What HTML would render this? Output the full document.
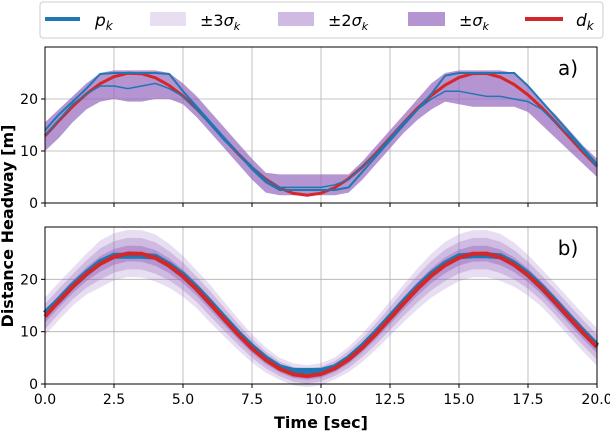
<!DOCTYPE html>
<html><head><meta charset="utf-8"><style>
body{margin:0;background:#fff;}
svg text{font-family:"DejaVu Sans","Liberation Sans",sans-serif;}
</style></head><body>
<svg id="chart" width="610" height="432" xmlns="http://www.w3.org/2000/svg">
<g id="legend">
<rect x="40" y="2" width="563" height="36" rx="3" fill="#fff" stroke="#ccc"/>
<line x1="45" y1="19" x2="80" y2="19" stroke="#1f77b4" stroke-width="4"/>
<text x="95" y="26" font-size="17" font-style="italic">p<tspan font-size="12" dy="4">k</tspan></text>
<rect x="150" y="12" width="36" height="14" fill="#9467bd" fill-opacity="0.22"/>
<text x="200" y="26" font-size="16">±3<tspan font-style="italic">σ</tspan><tspan font-size="11" font-style="italic" dy="4">k</tspan></text>
<rect x="278" y="12" width="36" height="14" fill="#9467bd" fill-opacity="0.45"/>
<text x="328" y="26" font-size="16">±2<tspan font-style="italic">σ</tspan><tspan font-size="11" font-style="italic" dy="4">k</tspan></text>
<rect x="408" y="12" width="37" height="14" fill="#9467bd" fill-opacity="0.7"/>
<text x="459" y="26" font-size="16">±<tspan font-style="italic">σ</tspan><tspan font-size="11" font-style="italic" dy="4">k</tspan></text>
<line x1="525" y1="19" x2="563" y2="19" stroke="#d62728" stroke-width="4"/>
<text x="576" y="26" font-size="17" font-style="italic">d<tspan font-size="12" dy="4">k</tspan></text>
</g>
<g id="pa"></g>
<g id="pb"></g>
<text x="13" y="226" font-size="16" font-weight="bold" text-anchor="middle" transform="rotate(-90 13 226)">Distance Headway [m]</text>
<text x="321" y="428" font-size="16" font-weight="bold" text-anchor="middle">Time [sec]</text>
</svg>
<script>
const times=[0,0.5,1,1.5,2,2.5,3,3.5,4,4.5,5,5.5,6,6.5,7,7.5,8,8.5,9,9.5,10,10.5,11,11.5,12,12.5,13,13.5,14,14.5,15,15.5,16,16.5,17,17.5,18,18.5,19,19.5,20];
const dRef=[12.9,15.81,18.57,20.99,22.94,24.29,24.94,24.87,24.08,22.6,20.57,18.07,15.26,12.33,9.46,6.81,4.58,2.9,1.84,1.5,1.89,2.97,4.68,6.95,9.62,12.51,15.44,18.23,20.7,22.7,24.14,24.89,24.92,24.2,22.78,20.78,18.33,15.54,12.63,9.75,7.07];
const aUpper=[15.5,18,20.5,23,25,25.5,25.5,25.5,25.5,25,23,20.5,17.5,14.5,11.5,8.5,5.8,5.5,5.5,5.5,5.5,5.5,5.5,8,11,14,17,20,23,25,25.5,25.5,25.5,25.5,25,22.5,19.5,17,14,11,8.5];
const aLower=[10,12.5,15.5,18,19.5,20,19.5,19.5,20,20,19,16.5,13.5,10.5,7.5,4.5,2,1.5,1.5,1.5,1.5,1.5,2,4.5,7.5,10.5,13.5,16,18,19.5,19,18.5,18.5,18.5,18.5,17.5,15,12.5,10,7.5,5];
const aPred1=[14,17,19.5,22,24.8,25,25,25,25,24.8,21.5,18.5,15.5,12.5,9.5,6.5,4,2.5,2.5,2.5,2.5,2.5,3,6,9,12,15,18,21,24.5,25,25,25,25,25,22.5,19.5,16.5,13.5,10.5,7.5];
const aPred2=[13,16,19,21,22.5,22.5,22,22.5,23,22,20.5,18,15,12,9.5,7,4.5,3,3,3,3,3.5,4.5,7,9.5,12.5,15.5,18,20,21.5,21.5,21,20.5,20.5,20,19.5,18,15.5,13,10,7];
const bSigma=[1.2,1.2,1.2,1.3,1.5,1.5,1.5,1.5,1.5,1.4,1.3,1.2,1.2,1.1,1.0,0.9,0.8,0.7,0.7,0.7,0.7,0.7,0.8,0.9,1.0,1.1,1.2,1.3,1.4,1.5,1.5,1.5,1.5,1.5,1.4,1.3,1.2,1.2,1.2,1.2,1.2];
const bPred=[13.5,16,18.8,21.2,23.3,24.5,24.5,24.5,24.3,22.8,20.8,18.3,15.5,12.6,9.7,7.1,4.9,3.2,2.5,2.5,2.5,3.2,4.9,7.2,9.9,12.8,15.7,18.5,21,23,24.4,24.6,24.6,24.4,23,21,18.5,15.7,12.8,10,7.3];
const xTicks=[0,2.5,5,7.5,10,12.5,15,17.5,20];
const xTickLabels=["0.0","2.5","5.0","7.5","10.0","12.5","15.0","17.5","20.0"];
const yTicks=[0,10,20];
const NS="http://www.w3.org/2000/svg";
const X0=45,X1=597;
function xs(t){return X0+(t-0)/(20-0)*(X1-X0);}
function mk(tag,attrs,parent){const e=document.createElementNS(NS,tag);for(const k in attrs)e.setAttribute(k,attrs[k]);parent.appendChild(e);return e;}
function ys(top,bot){return v=>bot-(v/30)*(bot-top);}
function linePts(arr,y){return arr.map((v,i)=>xs(times[i]).toFixed(1)+","+y(v).toFixed(1)).join(" ");}
function bandPts(lo,hi,y){const a=hi.map((v,i)=>xs(times[i]).toFixed(1)+","+y(v).toFixed(1));const b=lo.map((v,i)=>xs(times[i]).toFixed(1)+","+y(v).toFixed(1)).reverse();return a.concat(b).join(" ");}
function axes(g,top,bot,y){
  for(const t of xTicks){const l=mk("line",{x1:xs(t),x2:xs(t),y1:top,y2:bot,stroke:"#b0b0b0","stroke-width":0.8},g);
    
    }
  for(const v of yTicks){const l=mk("line",{x1:X0,x2:X1,y1:y(v),y2:y(v),stroke:"#b0b0b0","stroke-width":0.8},g);
    
    }
}
function frame(g,top,bot,y,showX,label,nm){
  const r=mk("rect",{x:X0,y:top,width:X1-X0,height:bot-top,fill:"none",stroke:"#000","stroke-width":1},g);
  
  
  xTicks.forEach((t,i)=>{mk("line",{x1:xs(t),x2:xs(t),y1:bot,y2:bot+4,stroke:"#000"},g);
    if(showX){const tx=mk("text",{x:xs(t),y:bot+20,"font-size":14,"text-anchor":"middle"},g);tx.textContent=xTickLabels[i];
      
      }});
  for(const v of yTicks){mk("line",{x1:X0-4,x2:X0,y1:y(v),y2:y(v),stroke:"#000"},g);
    const tx=mk("text",{x:X0-7,y:y(v)+5,"font-size":14,"text-anchor":"end"},g);tx.textContent=String(v);
    
    }
  const lb=mk("text",{x:568,y:top+28,"font-size":20,"text-anchor":"middle"},g);lb.textContent=label;
  
  
}
(function(){
  const g=document.getElementById("pa");const top=47,bot=203;const y=ys(top,bot);
  axes(g,top,bot,y);
  const band=mk("polygon",{points:bandPts(aLower,aUpper,y),fill:"#9467bd","fill-opacity":0.7},g);
  
  
  const d=mk("polyline",{points:linePts(dRef,y),fill:"none",stroke:"#d62728","stroke-width":3},g);
  
  
  const p1=mk("polyline",{points:linePts(aPred1,y),fill:"none",stroke:"#1f77b4","stroke-width":2},g);
  
  
  const p2=mk("polyline",{points:linePts(aPred2,y),fill:"none",stroke:"#1f77b4","stroke-width":1.5},g);
  
  
  frame(g,top,bot,y,false,"a)","panel-a");
})();
(function(){
  const g=document.getElementById("pb");const top=227,bot=384;const y=ys(top,bot);
  axes(g,top,bot,y);
  const ops=[[3,0.22,'band-3sigma'],[2,0.3,'band-2sigma'],[1,0.45,'band-1sigma']];
  for(const [k,op,nm] of ops){
    const lo=dRef.map((v,i)=>v-k*bSigma[i]),hi=dRef.map((v,i)=>v+k*bSigma[i]);
    const p=mk("polygon",{points:bandPts(lo,hi,y),fill:"#9467bd","fill-opacity":op},g);
    
    
  }
  const pb=mk("polyline",{points:linePts(bPred,y),fill:"none",stroke:"#1f77b4","stroke-width":6},g);
  
  
  const d=mk("polyline",{points:linePts(dRef,y),fill:"none",stroke:"#d62728","stroke-width":4},g);
  
  
  frame(g,top,bot,y,true,"b)","panel-b");
})();
</script>
</body></html>
